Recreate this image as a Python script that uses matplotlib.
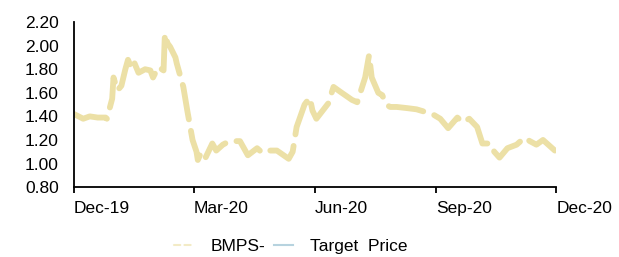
import matplotlib
matplotlib.use('Agg')
import matplotlib.pyplot as plt
import numpy as np
import pandas as pd

plt.rcParams['font.family'] = ['Liberation Sans', 'DejaVu Sans']

dates = ['2019-12-01', '2019-12-08', '2019-12-13', '2019-12-19', '2019-12-25', '2019-12-26',
         '2019-12-30', '2019-12-31', '2020-01-03', '2020-01-06', '2020-01-09', '2020-01-11',
         '2020-01-14', '2020-01-16', '2020-01-19', '2020-01-24', '2020-01-28', '2020-01-30',
         '2020-02-03', '2020-02-07', '2020-02-08', '2020-02-10', '2020-02-12', '2020-02-16',
         '2020-02-17', '2020-02-22', '2020-02-25', '2020-02-29', '2020-03-03', '2020-03-04',
         '2020-03-06', '2020-03-09', '2020-03-15', '2020-03-18', '2020-03-23', '2020-03-28',
         '2020-04-05', '2020-04-11', '2020-04-18', '2020-04-22', '2020-04-28', '2020-05-03',
         '2020-05-12', '2020-05-15', '2020-05-18', '2020-05-24', '2020-05-28', '2020-05-30',
         '2020-06-02', '2020-06-11', '2020-06-15', '2020-06-20', '2020-06-29', '2020-07-03',
         '2020-07-09', '2020-07-12', '2020-07-14', '2020-07-19', '2020-07-22', '2020-07-25',
         '2020-07-28', '2020-08-02', '2020-08-10', '2020-08-17', '2020-08-23', '2020-08-29',
         '2020-09-04', '2020-09-10', '2020-09-17', '2020-09-21', '2020-09-26', '2020-10-02',
         '2020-10-06', '2020-10-12', '2020-10-15', '2020-10-19', '2020-10-25', '2020-11-01',
         '2020-11-07', '2020-11-11', '2020-11-16', '2020-11-21', '2020-11-30']
bmps = [1.42, 1.38, 1.40, 1.39, 1.39, 1.38,
        1.55, 1.73, 1.62, 1.66, 1.80, 1.88,
        1.80, 1.85, 1.77, 1.80, 1.79, 1.73,
        1.82, 1.79, 2.10, 2.02, 1.99, 1.90,
        1.85, 1.65, 1.45, 1.20, 1.10, 1.03,
        1.08, 1.03, 1.17, 1.11, 1.16, 1.19,
        1.19, 1.07, 1.13, 1.09, 1.11, 1.11,
        1.04, 1.10, 1.31, 1.50, 1.56, 1.45,
        1.38, 1.51, 1.65, 1.61, 1.54, 1.52,
        1.73, 1.92, 1.73, 1.60, 1.58, 1.50,
        1.48, 1.48, 1.47, 1.46, 1.44, 1.42,
        1.38, 1.30, 1.39, 1.35, 1.38, 1.31,
        1.17, 1.17, 1.10, 1.05, 1.13, 1.16,
        1.22, 1.19, 1.16, 1.20, 1.11]
tick_dates = ['2019-12-01', '2020-03-01', '2020-06-01', '2020-09-01', '2020-12-01']
tick_labels = ['Dec-19', 'Mar-20', 'Jun-20', 'Sep-20', 'Dec-20']
y_ticks = [0.80, 1.00, 1.20, 1.40, 1.60, 1.80, 2.00, 2.20]

x = pd.to_datetime(dates)
ticks = pd.to_datetime(tick_dates)

fig = plt.figure(figsize=(6.19, 2.57), dpi=100)
ax = fig.add_axes([0.1195, 0.272, 0.779, 0.642])

ax.plot(x, bmps, color='#ECE0A6', lw=4.2, linestyle=(0, (6, 2)),
        dash_capstyle='round', solid_capstyle='round', label='BMPS-')
ax.plot([], [], color='#B7D3DF', lw=1.5, label='Target  Price')

ax.set_xlim(ticks[0], ticks[-1])
ax.set_ylim(0.8, 2.2)
ax.set_yticks(y_ticks)
ax.set_yticklabels(['%.2f' % v for v in y_ticks])
ax.set_xticks(ticks)
ax.set_xticklabels(tick_labels, ha='left')

for s in ['top', 'right']:
    ax.spines[s].set_visible(False)
for s in ['left', 'bottom']:
    ax.spines[s].set_color('black')
    ax.spines[s].set_linewidth(1.3)
ax.tick_params(axis='y', length=0, labelsize=12.5, pad=11)
ax.tick_params(axis='x', length=4, width=1.3, direction='out', labelsize=12.5, pad=6)

leg = fig.legend(loc='center', bbox_to_anchor=(291 / 619, 1 - 246 / 257), ncol=2, frameon=False,
                 fontsize=12.5, handlelength=1.1, handletextpad=1.0, columnspacing=0.5)
# thin, faint dashed handle like the reference legend
bm_handle = leg.get_lines()[0]
bm_handle.set_linewidth(1.5)
bm_handle.set_linestyle((0, (3, 2)))
bm_handle.set_color('#F3EBC6')

fig.savefig('out.png', dpi=100)
